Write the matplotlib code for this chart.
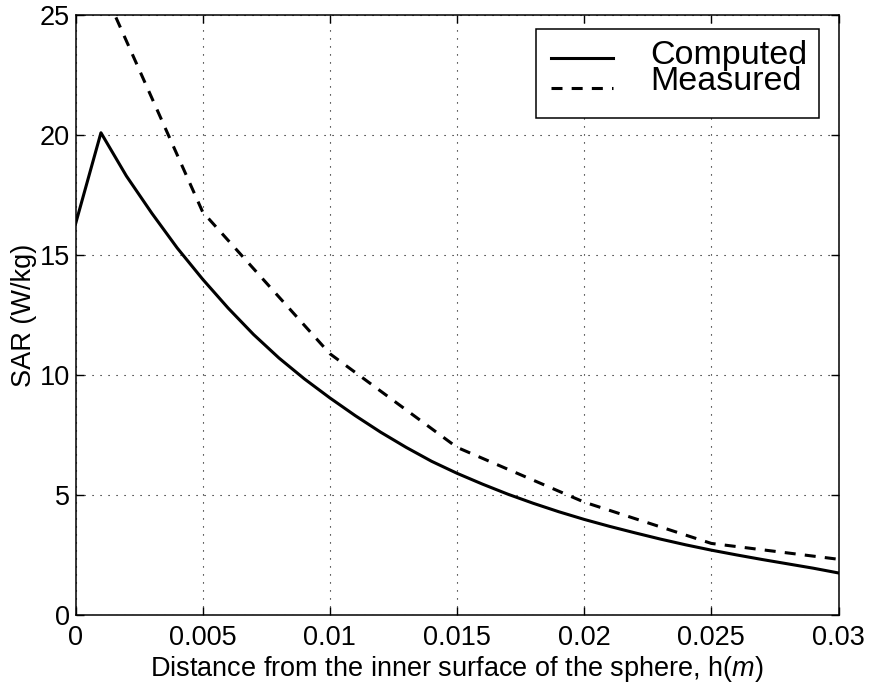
import matplotlib
matplotlib.use("Agg")
import matplotlib.pyplot as plt
from matplotlib.patches import Rectangle
from matplotlib.lines import Line2D

plt.rcParams['font.family'] = ['Liberation Sans', 'DejaVu Sans']
plt.rcParams['mathtext.fontset'] = 'custom'
plt.rcParams['mathtext.it'] = 'Liberation Sans:italic'
plt.rcParams['mathtext.rm'] = 'Liberation Sans'

# Computed SAR
h_comp = [0.000, 0.001, 0.002, 0.003, 0.004, 0.005, 0.006, 0.007, 0.008, 0.009,
          0.010, 0.011, 0.012, 0.013, 0.014, 0.015, 0.016, 0.017, 0.018, 0.019,
          0.020, 0.021, 0.022, 0.023, 0.024, 0.025, 0.026, 0.027, 0.028, 0.029, 0.030]
sar_comp = [16.3, 20.1, 18.3, 16.75, 15.3, 14.0, 12.8, 11.7, 10.72, 9.85,
            9.06, 8.32, 7.63, 7.0, 6.42, 5.92, 5.47, 5.05, 4.67, 4.32,
            4.0, 3.71, 3.44, 3.18, 2.94, 2.72, 2.52, 2.33, 2.15, 1.97, 1.77]

# Measured SAR
h_meas = [0.001, 0.005, 0.010, 0.015, 0.020, 0.025, 0.030]
sar_meas = [26.3, 16.8, 10.9, 7.0, 4.72, 3.0, 2.34]

series_labels = ['Computed', 'Measured']

xticks = [0, 0.005, 0.01, 0.015, 0.02, 0.025, 0.03]
xticklabels = ['0', '0.005', '0.01', '0.015', '0.02', '0.025', '0.03']
yticks = [0, 5, 10, 15, 20, 25]

fig = plt.figure(figsize=(8.71, 6.85), dpi=100)
ax = fig.add_axes([0.0867, 0.1015, 0.876, 0.8765])

solid_style = dict(color='black', lw=2.2, linestyle='-')
dash_style = dict(color='black', lw=2.2, linestyle=(0, (3.6, 3.0)))

ax.plot(h_comp, sar_comp, **solid_style)
ax.plot(h_meas, sar_meas, **dash_style)

ax.set_xlim(0, 0.03)
ax.set_ylim(0, 25)
ax.set_xticks(xticks)
ax.set_xticklabels(xticklabels)
ax.set_yticks(yticks)
ax.grid(True, color='black', linestyle=(0, (1, 6.2)), linewidth=0.8)
ax.tick_params(direction='in', length=6, width=1.0, top=True, right=True,
               labelsize=19.5, pad=4)
ax.tick_params(axis='x', pad=7)
for s in ax.spines.values():
    s.set_linewidth(1.1)

ax.set_xlabel(r'Distance from the inner surface of the sphere, h($m$)',
              fontsize=19.5, labelpad=2)
ax.set_ylabel('SAR (W/kg)', fontsize=19.5, labelpad=2)

# Legend box (MATLAB-style, tight text rows)
ax.add_patch(Rectangle((0.6035, 0.829), 0.3709, 0.1485, transform=ax.transAxes,
                       facecolor='white', edgecolor='black', lw=1.1,
                       zorder=5, clip_on=False))
ax.add_line(Line2D([0.6232, 0.7045], [0.9287, 0.9287], transform=ax.transAxes,
                   zorder=6, **solid_style))
ax.add_line(Line2D([0.6232, 0.7045], [0.8792, 0.8792], transform=ax.transAxes,
                   zorder=6, **dash_style))
ax.text(0.753, 0.958, '\n'.join(series_labels), transform=ax.transAxes,
        fontsize=24.5, ha='left', va='top', linespacing=0.8, zorder=7)

fig.savefig('out.png', dpi=100)
